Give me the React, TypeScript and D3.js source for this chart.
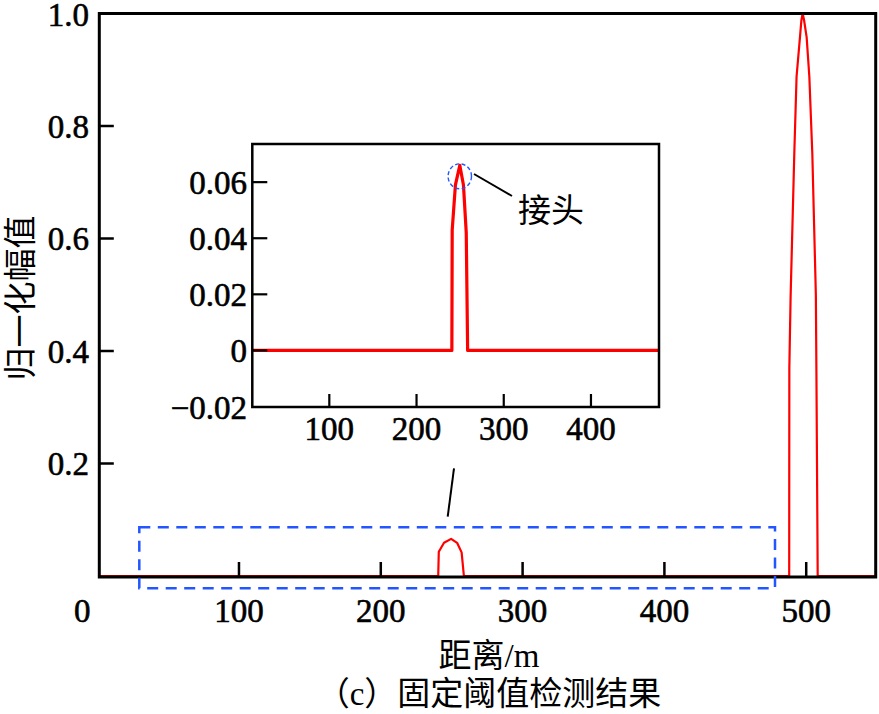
import React from "react";
import * as d3 from "d3";

// ---- data ----
const distance = [0, 240.5, 240.9, 244.6, 249.6, 253.8, 257.0, 258.6, 488.0, 488.1, 489.0, 491.6, 493.2, 495.6, 496.6, 497.5, 498.5, 500.3, 502.2, 504.3, 506.8, 507.2, 508.1, 550];
const amplitude = [0, 0, 0.043, 0.059, 0.066, 0.059, 0.042, 0, 0, 0.37, 0.497, 0.751, 0.888, 0.958, 0.988, 1.0, 0.988, 0.958, 0.888, 0.751, 0.5, 0.36, 0, 0];

const mainXTicks = [0, 100, 200, 300, 400, 500];
const mainYTicks = [0.2, 0.4, 0.6, 0.8, 1.0];
const insetXTicks = [100, 200, 300, 400];
const insetYTicks = [-0.02, 0, 0.02, 0.04, 0.06];

const yLabel = "归一化幅值";
const xLabel = "距离/m";
const caption = "（c）固定阈值检测结果";
const annotation = "接头";

const SERIF = "Liberation Serif, Tinos, DejaVu Serif, serif";
const CJK = "Liberation Serif, Noto Sans CJK SC, sans-serif";

export default function App() {
  const W = 879, H = 714;
  // main plot
  const mL = 99.3, mR = 875.7, mT = 13.5, mB = 577;
  const x = d3.scaleLinear().domain([1.5, 549]).range([mL, mR]);
  const y = d3.scaleLinear().domain([0, 1]).range([576, 13.5]);
  // inset plot
  const iL = 252.3, iR = 659, iT = 144, iB = 407;
  const xi = d3.scaleLinear().domain([11.7, 478]).range([iL, iR]);
  const yi = d3.scaleLinear().domain([-0.02, 0.0736]).range([406.5, iT]);

  const pts = distance.map((d, i) => [d, amplitude[i]] as [number, number]);
  const mainLine = d3.line<[number, number]>().x(d => x(d[0])).y(d => y(d[1]))(pts) || "";
  const insetLine = d3.line<[number, number]>().x(d => xi(d[0])).y(d => yi(d[1]))(pts) || "";

  // zoom box in main chart (data coords)
  const boxX0 = x.invert(139.3), boxX1 = x.invert(775);
  const peakX = 249.6, peakY = 0.066;
  const numStyle = { stroke: "#000", strokeWidth: 0.6 };

  return (
    <svg width={W} height={H} style={{ position: "absolute", left: 0, top: 0, background: "#fff" }}
      xmlns="http://www.w3.org/2000/svg">
      <defs>
        <clipPath id="mainClip"><rect x={mL} y={mT} width={mR - mL} height={mB - mT} /></clipPath>
        <clipPath id="insetClip"><rect x={iL} y={iT} width={iR - iL} height={iB - iT} /></clipPath>
      </defs>
      <rect x={0} y={0} width={W} height={H} fill="#fff" />

      {/* main data line */}
      <path d={mainLine} fill="none" stroke="#ff0000" strokeWidth={2.2} clipPath="url(#mainClip)" strokeLinejoin="round" />

      {/* main frame */}
      <rect x={mL} y={mT} width={mR - mL} height={mB - mT} fill="none" stroke="#000" strokeWidth={3} />
      {/* main ticks */}
      {mainXTicks.filter(t => t > 0).map(t => (
        <line key={"mxt" + t} x1={x(t)} x2={x(t)} y1={mB} y2={mB - 15} stroke="#000" strokeWidth={2.5} />
      ))}
      {mainYTicks.map(t => (
        <line key={"myt" + t} x1={mL} x2={mL + 14.5} y1={y(t)} y2={y(t)} stroke="#000" strokeWidth={2.5} />
      ))}
      {mainXTicks.map(t => (
        <text key={"mxl" + t} x={t === 0 ? x(t) - 15 : x(t)} y={622} textAnchor="middle"
          fontFamily={SERIF} fontSize={33} fill="#000" style={numStyle}>{t}</text>
      ))}
      {mainYTicks.map(t => (
        <text key={"myl" + t} x={89} y={Math.max(y(t) + 11.5, 26)} textAnchor="end"
          fontFamily={SERIF} fontSize={33} fill="#000" style={numStyle}>{t.toFixed(1)}</text>
      ))}

      {/* axis titles */}
      <text transform={`translate(32,${298}) rotate(-90)`} textAnchor="middle" fontFamily={CJK} fontSize={33} fill="#000">{yLabel}</text>
      <text x={489} y={667} textAnchor="middle" fontFamily={CJK} fontSize={33} fill="#000">{xLabel}</text>
      <text x={489} y={705} textAnchor="middle" fontFamily={CJK} fontSize={33} fill="#000">{caption}</text>

      {/* dashed zoom box */}
      <rect x={x(boxX0)} y={527.3} width={x(boxX1) - x(boxX0)} height={61} fill="none"
        stroke="#2356ff" strokeWidth={2.5} strokeDasharray="11 7.5" />
      <line x1={447.7} y1={516.7} x2={454} y2={468.3} stroke="#000" strokeWidth={2} />

      {/* inset */}
      <rect x={iL} y={iT} width={iR - iL} height={iB - iT} fill="#fff" />
      <path d={insetLine} fill="none" stroke="#ff0000" strokeWidth={3.2} clipPath="url(#insetClip)" strokeLinejoin="round" />
      <rect x={iL} y={iT} width={iR - iL} height={iB - iT} fill="none" stroke="#000" strokeWidth={2.5} />
      {insetXTicks.map(t => (
        <line key={"ixt" + t} x1={xi(t)} x2={xi(t)} y1={iB} y2={iB - 13} stroke="#000" strokeWidth={2.2} />
      ))}
      {insetYTicks.filter(t => t > -0.02).map(t => (
        <line key={"iyt" + t} x1={iL} x2={iL + 15} y1={yi(t)} y2={yi(t)} stroke="#000" strokeWidth={2.2} />
      ))}
      {insetXTicks.map(t => (
        <text key={"ixl" + t} x={xi(t)} y={440} textAnchor="middle"
          fontFamily={SERIF} fontSize={33} fill="#000" style={numStyle}>{t}</text>
      ))}
      {insetYTicks.map(t => (
        <text key={"iyl" + t} x={247} y={yi(t) + 12} textAnchor="end"
          fontFamily={SERIF} fontSize={33} fill="#000" style={numStyle}>{t === 0 ? "0" : t.toFixed(2).replace("-", "\u2212")}</text>
      ))}

      {/* annotation */}
      <ellipse cx={xi(peakX)} cy={yi(peakY) + 11} rx={11.7} ry={12.5} fill="none" stroke="#2356ff" strokeWidth={1.4} strokeDasharray="4 2.5" />
      <line x1={474} y1={174} x2={512} y2={196} stroke="#000" strokeWidth={2} />
      <text x={551} y={222} textAnchor="middle" fontFamily={CJK} fontSize={33} fill="#000">{annotation}</text>
    </svg>
  );
}
